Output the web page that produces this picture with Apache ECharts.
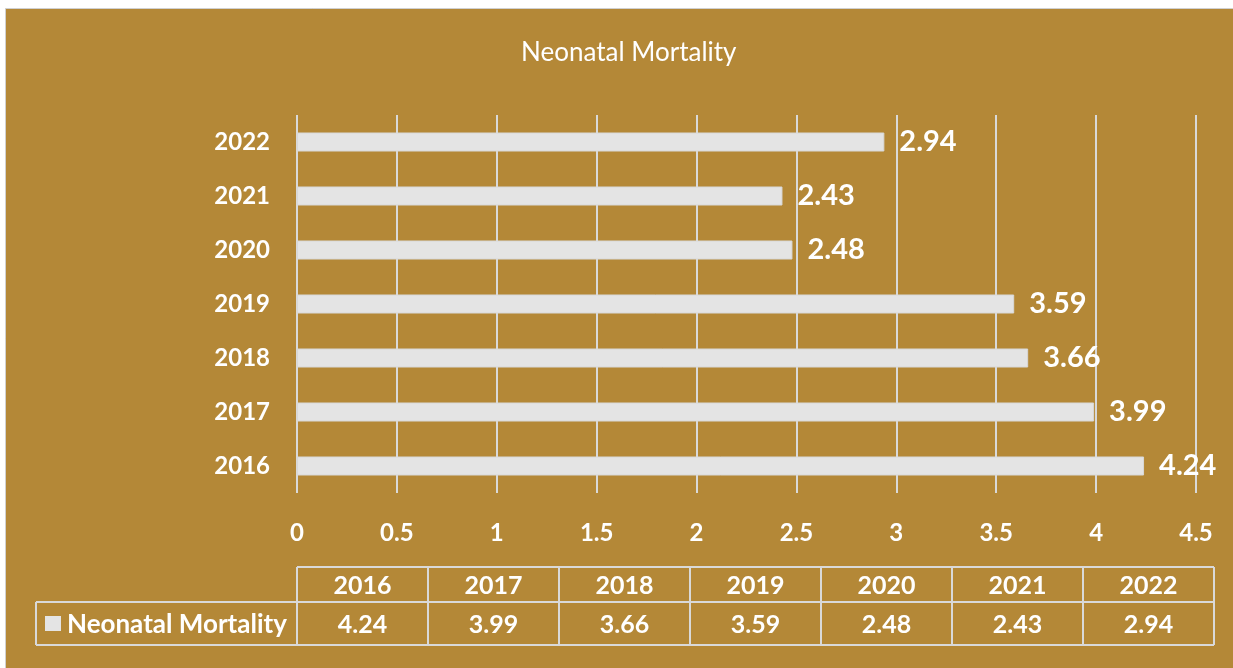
<!DOCTYPE html>
<html>
<head>
<meta charset="utf-8">
<script type="text/javascript" src="https://cdn.jsdelivr.net/npm/echarts@6/dist/echarts.min.js"></script>
<style>
  html, body { margin: 0; padding: 0; background: #ffffff; }
  #chart-main { width: 1233px; height: 668px; }
</style>
</head>
<body>
<div id="chart-main"></div>

<script>
// 数据
var years = ['2016', '2017', '2018', '2019', '2020', '2021', '2022'];
var mortality = [4.24, 3.99, 3.66, 3.59, 2.48, 2.43, 2.94];
var seriesName = 'Neonatal Mortality';
var xTicks = ['0', '0.5', '1', '1.5', '2', '2.5', '3', '3.5', '4', '4.5'];

var gold = '#B48837';
var lineColor = '#D9D9D9';
var barColor = '#E4E4E4';
var font = 'Lato, "Open Sans", sans-serif';

// 数据表（图下方）
function buildTable(){
  var items = [];
  var colLeft = 297, colW = 131;
  var headTop = 567, rowMid = 602, rowBottom = 645, keyLeft = 36;
  var tableRight = colLeft + colW * years.length;
  var stroke = {stroke: lineColor, lineWidth: 2};

  // 横线
  items.push({type: 'line', shape: {x1: colLeft, y1: headTop, x2: tableRight, y2: headTop}, style: stroke});
  items.push({type: 'line', shape: {x1: keyLeft, y1: rowMid, x2: tableRight, y2: rowMid}, style: stroke});
  items.push({type: 'line', shape: {x1: keyLeft, y1: rowBottom, x2: tableRight, y2: rowBottom}, style: stroke});
  items.push({type: 'line', shape: {x1: keyLeft, y1: rowMid, x2: keyLeft, y2: rowBottom}, style: stroke});

  for(var i = 0; i <= years.length; i++){
    var x = colLeft + colW * i;
    items.push({type: 'line', shape: {x1: x, y1: headTop, x2: x, y2: rowBottom}, style: stroke});
  }
  for(var j = 0; j < years.length; j++){
    var cx = colLeft + colW * j + colW / 2;
    items.push({type: 'text', x: cx, y: (headTop + rowMid) / 2 + 1, style: {
      text: years[j], fill: '#fff', font: 'bold 25px ' + font, align: 'center', verticalAlign: 'middle'}});
    items.push({type: 'text', x: cx, y: (rowMid + rowBottom) / 2 + 1, style: {
      text: mortality[j].toFixed(2), fill: '#fff', font: 'bold 25px ' + font, align: 'center', verticalAlign: 'middle'}});
  }
  // 图例方块 + 名称
  items.push({type: 'rect', shape: {x: 45, y: 616, width: 16, height: 15}, style: {fill: barColor}});
  items.push({type: 'text', x: 67, y: (rowMid + rowBottom) / 2 + 1, style: {
    text: seriesName, fill: '#fff', font: 'bold 26px ' + font, align: 'left', verticalAlign: 'middle'}});
  return items;
}

var chart = echarts.init(document.getElementById('chart-main'));
var option = {
  backgroundColor: '#ffffff',
  animation: false,
  graphic: [
    {type: 'rect', z: -10, shape: {x: 5.5, y: 8.5, width: 1240, height: 670},
     style: {fill: gold, stroke: '#D0D0D0', lineWidth: 1}}
  ].concat(buildTable()),
  title: {
    text: seriesName,
    left: 516,
    top: 35,
    textStyle: {color: '#fff', fontFamily: font, fontWeight: 'normal', fontSize: 26}
  },
  grid: {left: 297, right: 37, top: 115, bottom: 175},
  xAxis: {
    type: 'value',
    min: 0,
    max: 4.5,
    interval: 0.5,
    axisLine: {show: false},
    axisTick: {show: false},
    axisLabel: {
      color: '#fff', fontFamily: font, fontWeight: 'bold', fontSize: 24, margin: 28,
      formatter: function(v){ return xTicks[Math.round(v / 0.5)]; }
    },
    splitLine: {lineStyle: {color: lineColor, width: 2}}
  },
  yAxis: {
    type: 'category',
    data: years,
    axisLine: {show: false},
    axisTick: {show: false},
    axisLabel: {color: '#fff', fontFamily: font, fontWeight: 'bold', fontSize: 24, margin: 27}
  },
  series: [{
    name: seriesName,
    type: 'bar',
    barWidth: 19,
    data: mortality,
    itemStyle: {color: barColor, borderColor: '#D8D8D8', borderWidth: 1},
    label: {
      show: true,
      position: 'right',
      distance: 15,
      color: '#fff',
      fontFamily: font,
      fontWeight: 'bold',
      fontSize: 29,
      formatter: function(p){ return p.value.toFixed(2); }
    }
  }]
};
chart.setOption(option);
</script>
</body>
</html>
